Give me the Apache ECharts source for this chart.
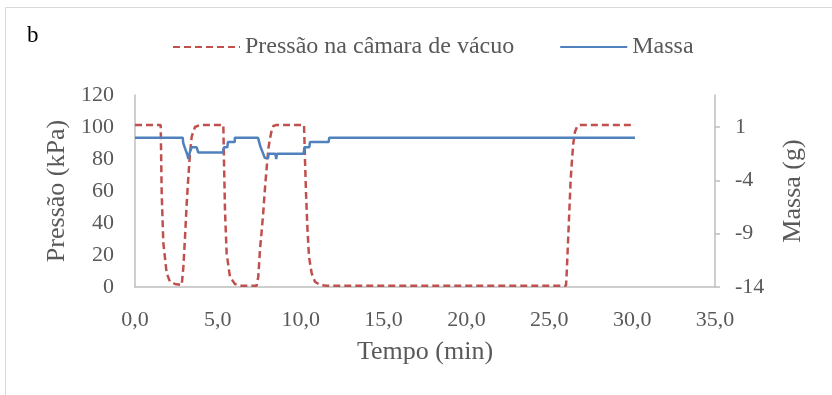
<!DOCTYPE html>
<html>
<head>
<meta charset="utf-8">
<script src="https://cdn.jsdelivr.net/npm/echarts@6/dist/echarts.min.js"></script>
<style>
html,body{margin:0;padding:0;background:#fff;}
#c{width:832px;height:395px;}
</style>
</head>
<body>
<div id="c"></div>
<script>
// Pressure (kPa) vs time (min)
var pressTime = [0, 1.55, 1.61, 1.71, 1.91, 2.11, 2.41, 2.82, 2.92, 3.02, 3.12, 3.22, 3.32, 3.42, 3.62, 3.92,
  5.33, 5.37, 5.43, 5.53, 5.73, 6.03, 6.34, 7.34, 7.44, 7.54, 7.65, 7.75, 7.85, 7.95, 8.05, 8.15, 8.25, 8.35, 8.55,
  10.2, 10.26, 10.32, 10.4, 10.5, 10.66, 10.86, 11.17, 11.57,
  26.01, 26.05, 26.11, 26.17, 26.23, 26.29, 26.37, 26.45, 26.55, 26.69, 26.85, 30.17];
var pressValue = [101.3, 101.3, 59, 27.5, 8.7, 3.3, 1.9, 1.2, 12.7, 31.4, 52.3, 69, 83.5, 94, 100, 101.3,
  101.3, 79, 48, 21, 6.4, 1.9, 0.8, 0.8, 6.4, 23, 35.6, 48, 62.7, 75, 86.7, 93, 98, 100.6, 101.3,
  101.3, 79, 58.6, 37.7, 19, 8.6, 3.3, 1.25, 0.8,
  0.8, 8.6, 23, 37.7, 52.3, 67, 79.4, 89.8, 97, 100.6, 101.3, 101.3];
// Mass (g) vs time (min)
var massTime = [0, 2.88, 2.91, 3.02, 3.16, 3.22, 3.32, 3.42, 3.72, 3.82, 5.29, 5.37, 5.57, 5.61, 6.02, 6.03,
  7.42, 7.56, 7.71, 7.83, 8.03, 8.07, 8.47, 8.52, 8.57, 10.18, 10.22, 10.52, 10.56, 11.69, 11.72, 30.17];
var massValue = [0, 0, -0.5, -1.0, -1.6, -2.0, -1.3, -0.9, -0.9, -1.4, -1.4, -0.9, -0.9, -0.4, -0.4, 0,
  0, -0.8, -1.4, -1.9, -1.9, -1.5, -1.5, -2.0, -1.5, -1.5, -0.9, -0.9, -0.4, -0.4, 0, 0];

var seriesNames = ['Pressão na câmara de vácuo', 'Massa'];
var xTitle = 'Tempo (min)';
var yLeftTitle = 'Pressão (kPa)';
var yRightTitle = 'Massa (g)';
var panelLabel = 'b';

function zip(a, b) { return a.map(function (v, i) { return [v, b[i]]; }); }

var FONT = '"Liberation Serif", "Times New Roman", serif';
var TXT = '#595959';
var AX = '#bfbfbf';

var chart = echarts.init(document.getElementById('c'), null, {renderer: 'canvas'});
chart.setOption({
  animation: false,
  backgroundColor: '#fff',
  textStyle: {fontFamily: FONT},
  graphic: [
    {type: 'rect', shape: {x: 5.5, y: 7.5, width: 840, height: 400}, style: {fill: 'none', stroke: '#d9d9d9', lineWidth: 1}},
    {type: 'text', left: 27, top: 24, style: {text: panelLabel, font: '23px ' + FONT, fill: '#000'}}
  ],
  legend: {
    left: 167, top: 30,
    itemWidth: 67, itemHeight: 14, itemGap: 45,
    itemStyle: {opacity: 0},
    textStyle: {fontFamily: FONT, fontSize: 24, color: TXT, padding: [0, 0, 0, 0]},
    data: [seriesNames[0], seriesNames[1]]
  },
  grid: {left: 135, right: 117, top: 95, bottom: 108, containLabel: false},
  xAxis: {
    type: 'value', min: 0, max: 35, interval: 5,
    name: xTitle, nameLocation: 'middle', nameGap: 52,
    nameTextStyle: {fontFamily: FONT, fontSize: 26, color: TXT},
    axisLine: {show: true, onZero: false, lineStyle: {color: AX, width: 1.5}},
    axisTick: {show: false},
    splitLine: {show: false},
    axisLabel: {fontFamily: FONT, fontSize: 22, color: TXT, margin: 22,
      formatter: function (v) { return v.toFixed(1).replace('.', ','); }}
  },
  yAxis: [{
    type: 'value', min: 0, max: 120, interval: 20,
    name: yLeftTitle, nameLocation: 'middle', nameGap: 62, nameRotate: 90,
    nameTextStyle: {fontFamily: FONT, fontSize: 26, color: TXT},
    axisLine: {show: true, lineStyle: {color: AX, width: 1.5}},
    axisTick: {show: false},
    splitLine: {show: false},
    axisLabel: {fontFamily: FONT, fontSize: 22, color: TXT, margin: 21}
  }, {
    type: 'value', min: -14, max: 4, interval: 5, position: 'right',
    name: yRightTitle, nameLocation: 'middle', nameGap: 65, nameRotate: 90,
    nameTextStyle: {fontFamily: FONT, fontSize: 26, color: TXT},
    axisLine: {show: true, lineStyle: {color: AX, width: 1.5}},
    axisTick: {show: true, length: 5, lineStyle: {color: AX, width: 1.5}},
    splitLine: {show: false},
    axisLabel: {fontFamily: FONT, fontSize: 22, color: TXT, margin: 20, showMaxLabel: false,
      formatter: function (v) { return v === 4 ? '' : String(v); }}
  }],
  series: [{
    name: seriesNames[0], type: 'line', yAxisIndex: 0, showSymbol: false, symbol: 'none',
    data: zip(pressTime, pressValue),
    lineStyle: {color: '#c0504d', width: 2.5, type: [7, 4]},
    itemStyle: {color: '#c0504d'}
  }, {
    name: seriesNames[1], type: 'line', yAxisIndex: 1, showSymbol: false, symbol: 'none',
    data: zip(massTime, massValue),
    lineStyle: {color: '#4f81bd', width: 2.5},
    itemStyle: {color: '#4f81bd'}
  }]
});
</script>
</body>
</html>
